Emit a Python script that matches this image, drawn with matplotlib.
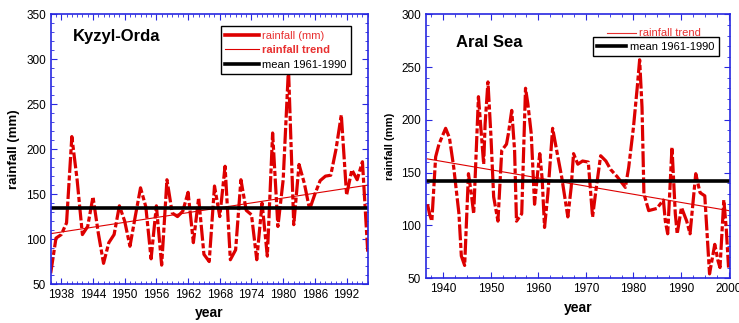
import matplotlib.pyplot as plt
import matplotlib as mpl
import numpy as np

mpl.rcParams['font.family'] = ['Liberation Sans', 'DejaVu Sans']
mpl.rcParams['xtick.direction'] = 'in'
mpl.rcParams['ytick.direction'] = 'in'

# Kyzyl-Orda, annual rainfall 1936-1996
ko_years = list(range(1936, 1997))
ko_rain = [62, 101, 105, 118, 214, 166, 105, 114, 147, 107,
           73, 96, 105, 137, 120, 92, 125, 157, 136, 78,
           137, 71, 166, 129, 125, 131, 152, 96, 146, 83,
           75, 159, 125, 181, 77, 88, 166, 132, 127, 77,
           140, 81, 218, 114, 166, 290, 116, 183, 162, 133,
           150, 165, 170, 171, 200, 238, 149, 177, 166, 186,
           86]
ko_trend = [106, 160]
ko_mean = 134

# Aral Sea
ar_years = [1936.7, 1937.1, 1937.6, 1938.4, 1939.1, 1940.5, 1941.3, 1942.2, 1943.3, 1943.8,
            1944.5, 1945.3, 1945.9, 1946.4, 1947.4, 1948.0, 1948.5, 1948.8, 1949.4, 1950.0,
            1950.6, 1951.5, 1952.3, 1953.3, 1953.7, 1954.4, 1955.0, 1955.4, 1956.5, 1957.3,
            1957.8, 1958.5, 1959.2, 1959.9, 1960.3, 1960.8, 1961.3, 1962.0, 1963.0, 1964.1,
            1964.9, 1966.2, 1966.9, 1967.4, 1968.3, 1969.3, 1970.5, 1971.4, 1972.1, 1973.1,
            1974.2, 1975.2, 1976.6, 1978.3, 1979.0, 1980.0, 1980.8, 1981.3, 1981.8, 1982.2,
            1983.2, 1984.9, 1986.3, 1986.7, 1987.2, 1988.1, 1988.8, 1989.2, 1990.1, 1991.2,
            1991.9, 1993.1, 1994.0, 1995.0, 1996.0, 1997.1, 1997.8, 1998.2, 1999.0, 1999.5,
            2000.0]
ar_rain = [120, 111, 104, 165, 177, 192, 183, 155, 111, 71,
           62, 149, 130, 111, 222, 187, 158, 196, 236, 187,
           127, 104, 171, 177, 187, 209, 171, 104, 111, 230,
           215, 187, 120, 152, 168, 144, 98, 130, 192, 165,
           146, 108, 136, 168, 158, 161, 160, 108, 133, 166,
           161, 153, 146, 136, 155, 193, 231, 257, 212, 130,
           114, 116, 124, 104, 92, 174, 111, 92, 117, 104,
           92, 149, 131, 128, 54, 82, 66, 60, 124, 98,
           60]
ar_trend = [163, 114]
ar_mean = 142.5

red = '#dd0000'
blue = '#2828e0'
dash = (0, (5, 0.8, 1.6, 0.8))

fig = plt.figure(figsize=(7.39, 3.23), dpi=100)
ax1 = fig.add_axes([0.0686, 0.1207, 0.429, 0.835])
ax2 = fig.add_axes([0.576, 0.139, 0.4118, 0.8164])


def style(ax):
    for s in ax.spines.values():
        s.set_color(blue)
        s.set_linewidth(1.2)
    ax.tick_params(which='both', colors=blue, labelcolor='black', top=True, right=True,
                   labelsize=8.5)
    ax.tick_params(which='major', length=4)
    ax.tick_params(which='minor', length=2)


# left panel
ax1.plot(ko_years, ko_rain, color=red, lw=2.3, linestyle=dash, label='rainfall (mm)')
ax1.plot([ko_years[0], ko_years[-1]], ko_trend, color=red, lw=0.8, label='rainfall trend')
ax1.axhline(ko_mean, color='black', lw=2.6, label='mean 1961-1990')
ax1.set_xlim(1936, 1996)
ax1.set_ylim(50, 350)
ax1.set_xticks(range(1938, 1996, 6))
ax1.xaxis.set_minor_locator(mpl.ticker.MultipleLocator(1))
ax1.yaxis.set_minor_locator(mpl.ticker.MultipleLocator(10))
style(ax1)
ax1.set_xlabel('year', fontsize=10, fontweight='bold')
ax1.set_ylabel('rainfall (mm)', fontsize=9.5, fontweight='bold')
ax1.text(0.07, 0.90, 'Kyzyl-Orda', transform=ax1.transAxes, fontsize=12, fontweight='bold')
h, l = ax1.get_legend_handles_labels()
h[0] = mpl.lines.Line2D([], [], color=red, lw=2.6)
leg = ax1.legend(h, l, loc='upper left', bbox_to_anchor=(0.537, 0.956), borderaxespad=0,
                 fontsize=8, fancybox=False, edgecolor='black', framealpha=1,
                 handlelength=3.0, handletextpad=0.3, labelspacing=0.4)
leg.get_frame().set_linewidth(1.0)
t = leg.get_texts()
t[0].set_color('#e83030')
t[1].set_color('#e83030')
t[1].set_fontweight('bold')

# right panel
ax2.plot(ar_years, ar_rain, color=red, lw=2.3, linestyle=dash)
ax2.plot([ar_years[0], ar_years[-1]], ar_trend, color=red, lw=0.8)
ax2.axhline(ar_mean, color='black', lw=2.6, label='mean 1961-1990')
ax2.set_xlim(1936.3, 2000.3)
ax2.set_ylim(50, 300)
ax2.set_xticks(range(1940, 2001, 10))
ax2.xaxis.set_minor_locator(mpl.ticker.MultipleLocator(2.5))
ax2.yaxis.set_minor_locator(mpl.ticker.MultipleLocator(10))
style(ax2)
ax2.set_xlabel('year', fontsize=10, fontweight='bold')
ax2.set_ylabel('rainfall (mm)', fontsize=8, fontweight='bold')
ax2.text(0.1, 0.875, 'Aral Sea', transform=ax2.transAxes, fontsize=12, fontweight='bold')
ax2.plot([0.596, 0.69], [0.929, 0.929], color='#e83030', lw=0.8, transform=ax2.transAxes)
ax2.text(0.70, 0.929, 'rainfall trend', transform=ax2.transAxes, fontsize=8,
         color='#e83030', va='center')
leg2 = ax2.legend(loc='upper left', bbox_to_anchor=(0.55, 0.914), borderaxespad=0,
                  fontsize=8, fancybox=False, edgecolor='black', framealpha=1,
                  handlelength=2.6, handletextpad=0.3)
leg2.get_frame().set_linewidth(1.0)

fig.savefig('out.png', dpi=100)
